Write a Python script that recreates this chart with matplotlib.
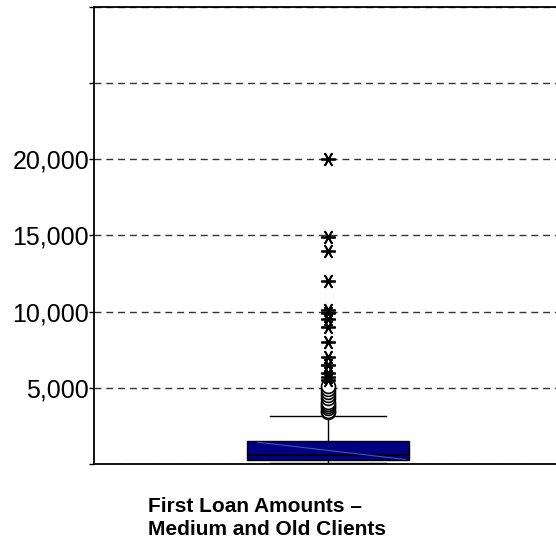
import matplotlib
matplotlib.use('Agg')
import matplotlib.pyplot as plt

# box statistics
q1 = 260
median = 590
q3 = 1510
whisker_low = 60
whisker_high = 3160

# outliers (circles) and extremes (stars)
outliers_mild = [3400, 3500, 3650, 3800, 3950, 4100, 4300, 4500, 4700, 4900, 5100]
outliers_extreme = [5500, 5700, 6000, 6500, 7000, 8000, 9000, 9500, 9900, 10100,
                    12000, 14000, 14900, 20000]

y_ticks = [0, 5000, 10000, 15000, 20000, 25000, 30000]
y_labels = ['', '5,000', '10,000', '15,000', '20,000', '', '']
xlabel = 'First Loan Amounts \u2013\nMedium and Old Clients'

plt.rcParams['font.family'] = ['Liberation Sans', 'DejaVu Sans']

fig = plt.figure(figsize=(5.56, 5.57), dpi=100)
ax = fig.add_axes([94 / 556, 93 / 557, 468 / 556, 457 / 557])

stats = [dict(med=median, q1=q1, q3=q3, whislo=whisker_low, whishi=whisker_high, fliers=[])]
ax.bxp(stats, positions=[0.5], widths=0.348, capwidths=0.246, patch_artist=True,
       showfliers=False,
       boxprops=dict(facecolor='#000080', edgecolor='black', linewidth=1),
       medianprops=dict(color='black', linewidth=1.2),
       whiskerprops=dict(color='black', linewidth=1),
       capprops=dict(color='black', linewidth=1))

# faint diagonal streak seen inside the box
ax.plot([0.35, 0.665], [q3 - 80, q1 + 40], color='#3a55b0', linewidth=0.8, zorder=4)

ax.plot([0.5] * len(outliers_mild), outliers_mild, linestyle='none', marker='o',
        markersize=10, markerfacecolor='white', markeredgecolor='black',
        markeredgewidth=1.2, zorder=5)
ax.plot([0.5] * len(outliers_extreme), outliers_extreme, linestyle='none',
        marker=(6, 2, 90), markersize=10.5, color='black', markeredgewidth=1.3, zorder=5)

ax.set_xlim(0, 1)
ax.set_ylim(0, 30000)
ax.set_yticks(y_ticks)
ax.set_yticklabels(y_labels, fontsize=18)
ax.set_xticks([])
ax.tick_params(axis='y', direction='out', length=3.5, width=1, pad=0)

ax.grid(axis='y', color='#333333', linestyle=(0, (5, 3.5)), linewidth=1)
ax.set_axisbelow(True)
for side in ['left', 'bottom', 'top']:
    ax.spines[side].set_linewidth(1.3)
ax.spines['right'].set_visible(False)

fig.text(148 / 556, 1 - 497 / 557, xlabel, ha='left', va='top', fontsize=15,
         fontweight='bold', linespacing=1.25)

fig.savefig('out.png', dpi=100)
